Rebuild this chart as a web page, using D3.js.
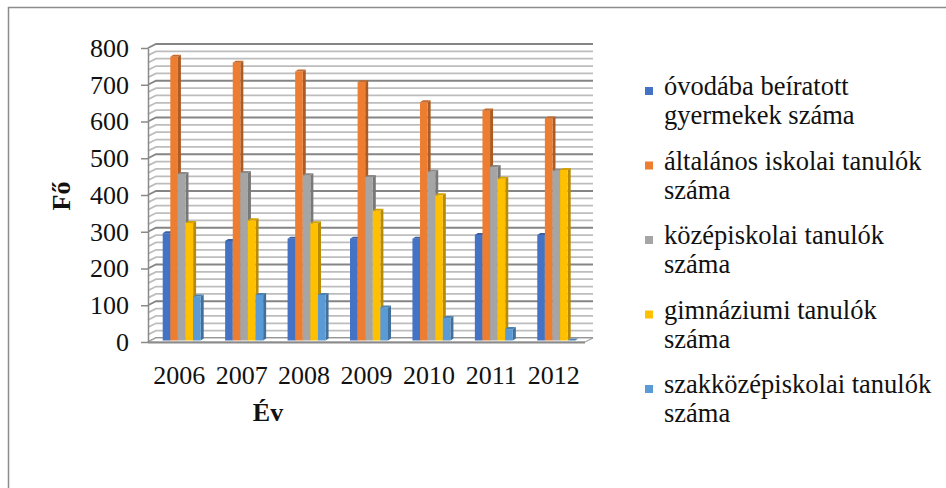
<!DOCTYPE html>
<html>
<head>
<meta charset="utf-8">
<script src="https://cdn.jsdelivr.net/npm/d3@7"></script>
<style>
  body { margin: 0; background: #fff; }
</style>
</head>
<body>
<div id="chart"></div>
<script>
// data
var years = ["2006", "2007", "2008", "2009", "2010", "2011", "2012"];
var seriesNames = [
    ["óvodába beíratott", "gyermekek száma"],
    ["általános iskolai tanulók", "száma"],
    ["középiskolai tanulók", "száma"],
    ["gimnáziumi tanulók", "száma"],
    ["szakközépiskolai tanulók", "száma"]
];
var ovoda = [292, 271, 277, 277, 277, 287, 287];
var altalanos = [772, 756, 732, 703, 648, 626, 604];
var kozep = [453, 456, 450, 445, 459, 472, 462];
var gimnazium = [320, 327, 319, 353, 395, 440, 464];
var szakkozep = [120, 124, 124, 90, 61, 31, 0];
var yTicks = [0, 100, 200, 300, 400, 500, 600, 700, 800];
var colors = ["#4472C4", "#ED7D31", "#A5A5A5", "#FFC000", "#5B9BD5"];

var series = [ovoda, altalanos, kozep, gimnazium, szakkozep];
var serif = "'Liberation Serif', 'Times New Roman', serif";

var W = 946, H = 488;
var svg = d3.select("#chart")
    .append("svg")
    .attr("width", W)
    .attr("height", H)
    .style("font-family", serif);

// outer frame
svg.append("rect")
    .attr("x", 8.5).attr("y", 7.5)
    .attr("width", W).attr("height", H)
    .attr("fill", "none")
    .attr("stroke", "#8c8c8c")
    .attr("stroke-width", 1.5);

// 3d depth of the walls
var dx = 8, dy = -4;

var x = d3.scaleBand()
    .domain(years)
    .range([148, 585]);

var y = d3.scaleLinear()
    .domain([0, 800])
    .range([342, 48]);

var x0 = x.range()[0], x1 = x.range()[1];

// back wall
svg.append("rect")
    .attr("x", x0 + dx).attr("y", y(800) + dy)
    .attr("width", x1 - x0).attr("height", y(0) - y(800))
    .attr("fill", "#fff");

// minor + major gridlines (back wall and left side wall)
var minor = d3.range(0, 801, 20).filter(function (v) { return v % 100 != 0; });
var grid = svg.append("g");

minor.forEach(function (v) {
    grid.append("path")
        .attr("d", "M" + x0 + "," + y(v) + "L" + (x0 + dx) + "," + (y(v) + dy) + "H" + (x1 + dx))
        .attr("fill", "none")
        .attr("stroke", "#bdbdbd")
        .attr("stroke-width", 1.8);
});
yTicks.forEach(function (v) {
    grid.append("path")
        .attr("d", "M" + x0 + "," + y(v) + "L" + (x0 + dx) + "," + (y(v) + dy) + "H" + (x1 + dx))
        .attr("fill", "none")
        .attr("stroke", "#858585")
        .attr("stroke-width", 1.8);
});

// floor
svg.append("path")
    .attr("d", "M" + x0 + "," + y(0) + "L" + x1 + "," + y(0) + "L" + (x1 + dx) + "," + (y(0) + dy) +
        "L" + (x0 + dx) + "," + (y(0) + dy) + "Z")
    .attr("fill", "#fff")
    .attr("stroke", "#a6a6a6")
    .attr("stroke-width", 1.2);
svg.append("line")
    .attr("x1", x0).attr("x2", x1)
    .attr("y1", y(0) + 0.5).attr("y2", y(0) + 0.5)
    .attr("stroke", "#8a8a8a")
    .attr("stroke-width", 2);

// bars
var barW = 7.6, bdx = 3, bdy = -2, off = 2.5;
var xi = d3.scaleBand()
    .domain(d3.range(5))
    .range([0, barW * 5]);

var bars = svg.append("g");
years.forEach(function (yr, i) {
    var gx = x(yr) + x.bandwidth() / 2 - barW * 2.5 + off;
    series.forEach(function (s, k) {
        var bx = gx + xi(k), yb = y(0) - 1.5, yt = y(s[i]) - 1.5;
        var c = d3.color(colors[k]);
        var b = bars.append("g");
        b.append("path")
            .attr("d", "M" + (bx + barW) + "," + yb + "L" + (bx + barW + bdx) + "," + (yb + bdy) +
                "L" + (bx + barW + bdx) + "," + (yt + bdy) + "L" + (bx + barW) + "," + yt + "Z")
            .attr("fill", c.darker(0.9));
        b.append("rect")
            .attr("x", bx).attr("y", yt)
            .attr("width", barW).attr("height", yb - yt)
            .attr("fill", colors[k]);
        b.append("path")
            .attr("d", "M" + bx + "," + yt + "L" + (bx + bdx) + "," + (yt + bdy) +
                "L" + (bx + barW + bdx) + "," + (yt + bdy) + "L" + (bx + barW) + "," + yt + "Z")
            .attr("fill", c.darker(0.5));
    });
});

// y axis
var yAxis = svg.append("g")
    .attr("transform", "translate(" + x0 + ",0)")
    .call(d3.axisLeft(y).tickValues(yTicks).tickSize(7).tickPadding(12).tickSizeOuter(0));
yAxis.attr("font-family", serif).attr("font-size", 26);
yAxis.select(".domain").attr("stroke", "#8a8a8a").attr("stroke-width", 1.5);
yAxis.selectAll(".tick line").attr("stroke", "#8a8a8a").attr("stroke-width", 1.5);
yAxis.selectAll(".tick text").attr("fill", "#111");

// x labels
svg.append("g").selectAll("text")
    .data(years)
    .enter()
    .append("text")
    .attr("x", function (d) { return x(d) + x.bandwidth() / 2; })
    .attr("y", 384)
    .attr("text-anchor", "middle")
    .attr("font-family", serif)
    .attr("font-size", 26)
    .attr("fill", "#111")
    .text(function (d) { return d; });

// axis titles
svg.append("text")
    .attr("x", 268)
    .attr("y", 421)
    .attr("text-anchor", "middle")
    .attr("font-family", serif)
    .attr("font-size", 26)
    .attr("font-weight", "bold")
    .attr("fill", "#111")
    .text("Év");

svg.append("text")
    .attr("transform", "translate(70,196) rotate(-90)")
    .attr("text-anchor", "middle")
    .attr("font-family", serif)
    .attr("font-size", 26)
    .attr("font-weight", "bold")
    .attr("fill", "#111")
    .text("Fő");

// legend
var legend = svg.append("g");
seriesNames.forEach(function (lines, k) {
    var base = 95 + k * 74.5;
    legend.append("rect")
        .attr("x", 645).attr("y", base - 8)
        .attr("width", 8).attr("height", 8)
        .attr("fill", colors[k]);
    lines.forEach(function (t, j) {
        legend.append("text")
            .attr("x", 664)
            .attr("y", base + j * 29)
            .attr("font-family", serif)
            .attr("font-size", 26.5)
            .attr("fill", "#111")
            .text(t);
    });
});
</script>
</body>
</html>
